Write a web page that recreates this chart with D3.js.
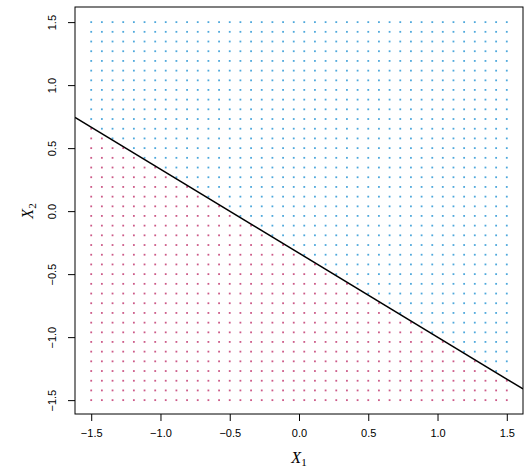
<!DOCTYPE html>
<html>
<head>
<meta charset="utf-8">
<script src="https://cdn.jsdelivr.net/npm/d3@7"></script>
<style>
  body { margin: 0; background: #fff; }
  svg text { font-family: "Liberation Sans", Arial, sans-serif; }
</style>
</head>
<body>
<svg class="main"></svg>
<script>
// grid of points, seq(-1.5, 1.5, length = 40)
const gridVals = [-1.500, -1.423, -1.346, -1.269, -1.192, -1.115, -1.038, -0.962, -0.885, -0.808,
                  -0.731, -0.654, -0.577, -0.500, -0.423, -0.346, -0.269, -0.192, -0.115, -0.038,
                  0.038, 0.115, 0.192, 0.269, 0.346, 0.423, 0.500, 0.577, 0.654, 0.731,
                  0.808, 0.885, 0.962, 1.038, 1.115, 1.192, 1.269, 1.346, 1.423, 1.500];
// hyperplane 1 + 2 X1 + 3 X2 = 0
const beta = [1, 2, 3];
const xTicks = [-1.5, -1.0, -0.5, 0.0, 0.5, 1.0, 1.5];
const yTicks = [-1.5, -1.0, -0.5, 0.0, 0.5, 1.0, 1.5];

const width = 527;
const height = 473;
const svg = d3.select("svg.main")
    .attr("width", width)
    .attr("height", height);

const mLeft = 75, mRight = 523, mTop = 7, mBottom = 414;
const x = d3.scaleLinear().domain([-1.617, 1.617]).range([mLeft, mRight]);
const y = d3.scaleLinear().domain([-1.61, 1.62]).range([mBottom, mTop]);

let pts = [];
gridVals.forEach(a => gridVals.forEach(b => pts.push({x1: a, x2: b})));

svg.append("g").selectAll("rect")
  .data(pts)
  .join("rect")
    .attr("x", d => x(d.x1) - 0.9)
    .attr("y", d => y(d.x2) - 0.9)
    .attr("width", 1.8)
    .attr("height", 1.8)
    .style("fill", d => (beta[0] + beta[1] * d.x1 + beta[2] * d.x2) > 0 ? "#4ea8dc" : "#cc5a88");

svg.append("defs").append("clipPath").attr("id", "clip")
  .append("rect").attr("x", mLeft).attr("y", mTop).attr("width", mRight - mLeft).attr("height", mBottom - mTop);

// the hyperplane
const lineX = x.domain();
svg.append("line")
    .attr("clip-path", "url(#clip)")
    .attr("x1", x(lineX[0]))
    .attr("y1", y(-(beta[0] + beta[1] * lineX[0]) / beta[2]))
    .attr("x2", x(lineX[1]))
    .attr("y2", y(-(beta[0] + beta[1] * lineX[1]) / beta[2]))
    .style("stroke", "black")
    .style("stroke-width", 1.5);

svg.append("rect")
    .attr("x", mLeft)
    .attr("y", mTop)
    .attr("width", mRight - mLeft)
    .attr("height", mBottom - mTop)
    .style("fill", "none")
    .style("stroke", "black")
    .style("stroke-width", 1);

const fmt = d3.format(".1f");
const fmtLab = v => fmt(v).replace("-", "\u2212");

const xAxis = svg.append("g")
    .attr("transform", `translate(0,${mBottom})`)
    .call(d3.axisBottom(x).tickValues(xTicks).tickFormat(fmtLab).tickSize(7).tickPadding(8));
xAxis.select(".domain").remove();
xAxis.selectAll("text").style("font-size", "11px").style("fill", "#000");

const yAxis = svg.append("g")
    .attr("transform", `translate(${mLeft},0)`)
    .call(d3.axisLeft(y).tickValues(yTicks).tickFormat(fmtLab).tickSize(7));
yAxis.select(".domain").remove();
yAxis.selectAll("text")
    .attr("x", 0).attr("dy", null)
    .attr("transform", "translate(-19,0) rotate(-90)")
    .attr("text-anchor", "middle")
    .style("font-size", "11px").style("fill", "#000");

// axis titles
const xt = svg.append("text")
    .attr("x", 299).attr("y", 463)
    .attr("text-anchor", "middle")
    .style("font-family", "'Liberation Serif', 'Times New Roman', serif")
    .style("font-size", "16px");
xt.append("tspan").style("font-style", "italic").text("X");
xt.append("tspan").attr("dy", 3).style("font-size", "11px").text("1");

const yt = svg.append("text")
    .attr("transform", "translate(33,211) rotate(-90)")
    .attr("text-anchor", "middle")
    .style("font-family", "'Liberation Serif', 'Times New Roman', serif")
    .style("font-size", "16px");
yt.append("tspan").style("font-style", "italic").text("X");
yt.append("tspan").attr("dy", 3).style("font-size", "11px").text("2");
</script>
</body>
</html>
